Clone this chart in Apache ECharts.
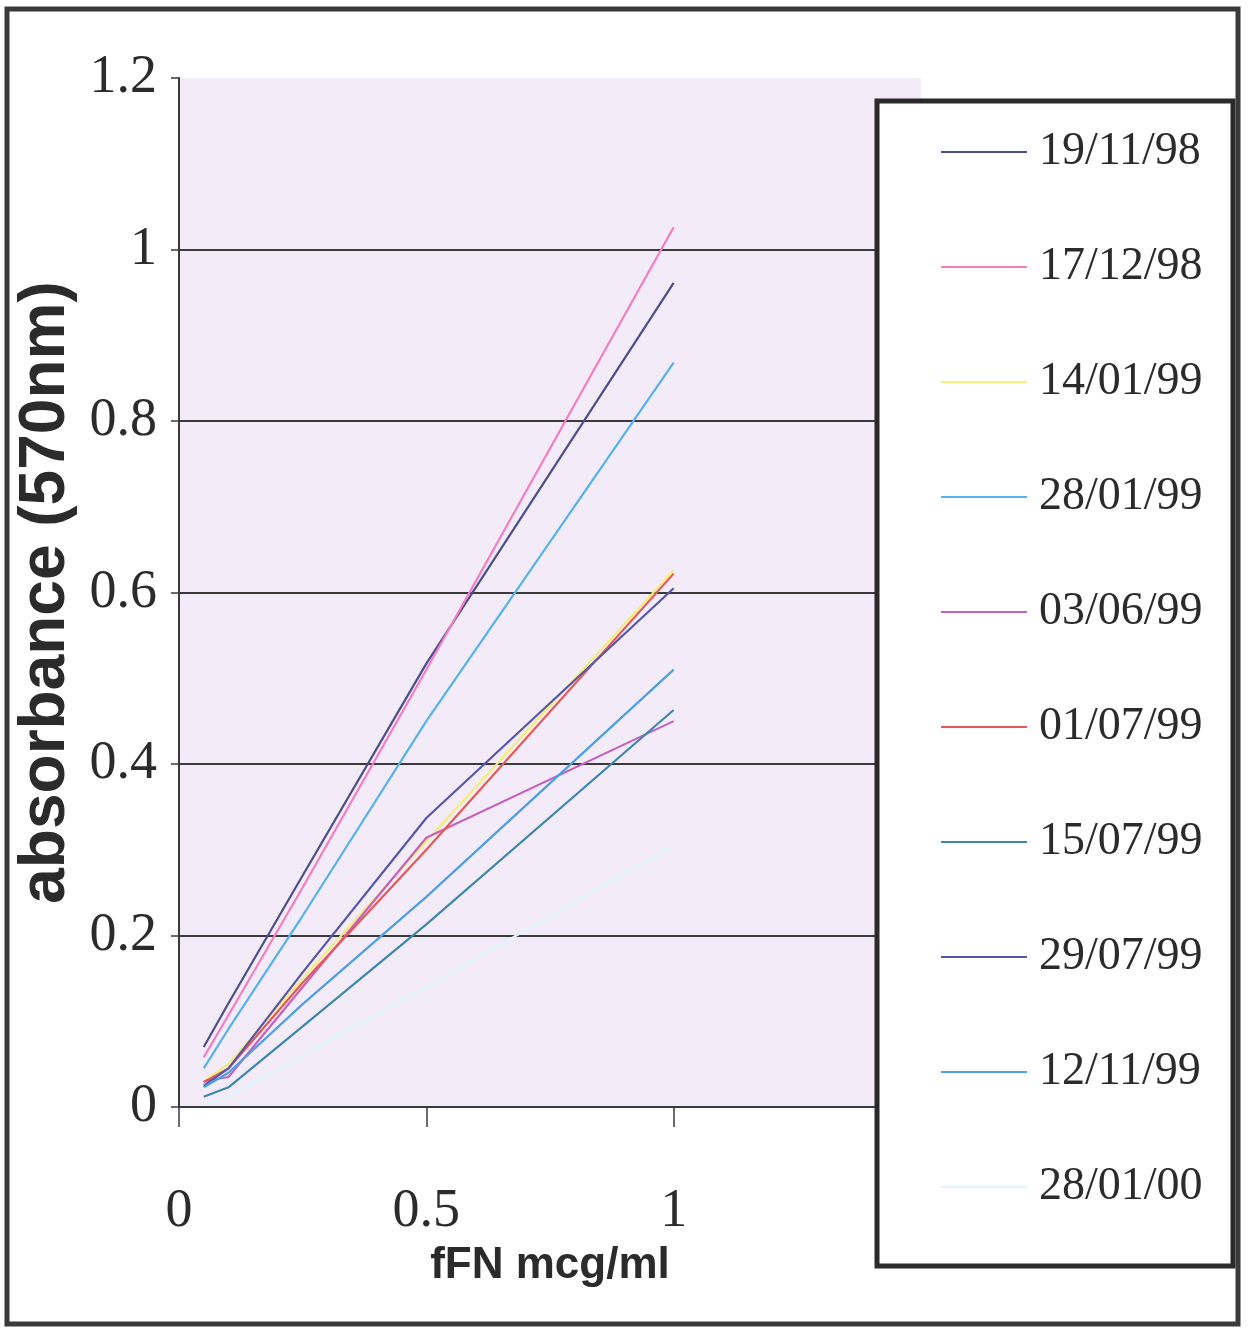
<!DOCTYPE html>
<html>
<head>
<meta charset="utf-8">
<script src="https://cdn.jsdelivr.net/npm/echarts@6/dist/echarts.min.js"></script>
<style>
html,body{margin:0;padding:0;background:#fff;}
#chart{width:1251px;height:1330px;}
</style>
</head>
<body>
<div id="chart"></div>
<script>
// fFN concentration (mcg/ml)
const xValues = [0.05, 0.1, 0.25, 0.5, 1.0];
const seriesNames = ["19/11/98","17/12/98","14/01/99","28/01/99","03/06/99","01/07/99","15/07/99","29/07/99","12/11/99","28/01/00"];
// absorbance (570nm) per run date
const s191198 = [0.070, 0.121, 0.270, 0.517, 0.961];
const s171298 = [0.058, 0.107, 0.256, 0.510, 1.026];
const s140199 = [0.030, 0.050, 0.150, 0.310, 0.626];
const s280199 = [0.045, 0.091, 0.223, 0.450, 0.868];
const s030699 = [0.030, 0.035, 0.140, 0.314, 0.450];
const s010799 = [0.029, 0.045, 0.145, 0.300, 0.622];
const s150799 = [0.012, 0.023, 0.094, 0.213, 0.463];
const s290799 = [0.025, 0.045, 0.157, 0.337, 0.605];
const s121199 = [0.023, 0.040, 0.120, 0.245, 0.510];
const s280100 = [0.003, 0.012, 0.060, 0.140, 0.305];
const allValues = [s191198,s171298,s140199,s280199,s030699,s010799,s150799,s290799,s121199,s280100];
const colors = ["#4a4e8c","#f47cc2","#f3ee7a","#55b2ee","#c263be","#e65858","#3f86ac","#5656ae","#4c9ee6","#dcf6fc"];
const xTicks = [0, 0.5, 1];

const series = seriesNames.map((name, i) => ({
  name: name,
  type: 'line',
  symbol: 'none',
  data: xValues.map((x, j) => [x, allValues[i][j]]),
  lineStyle: { width: 2.2, color: colors[i] },
  itemStyle: { color: colors[i] },
  z: 2
}));

const chart = echarts.init(document.getElementById('chart'), null, {renderer: 'canvas'});
chart.setOption({
  animation: false,
  backgroundColor: '#ffffff',
  grid: {
    left: 179, top: 78, width: 742, height: 1029,
    outerBoundsMode: 'none', containLabel: false,
    show: true, backgroundColor: '#f4ebf8', borderWidth: 0
  },
  xAxis: {
    type: 'value', min: 0, max: 1.5, interval: 0.5,
    axisLine: { show: true, lineStyle: { color: '#3a3a3a', width: 2 } },
    axisTick: { show: true, inside: false, length: 20, lineStyle: { color: '#3a3a3a', width: 1.5 } },
    splitLine: { show: false },
    axisLabel: {
      margin: 78, fontFamily: 'Liberation Serif', fontSize: 54, color: '#2b2b2b',
      formatter: v => (xTicks.indexOf(v) >= 0 ? String(v) : '')
    },
    name: 'fFN mcg/ml', nameLocation: 'middle', nameGap: 131,
    nameTextStyle: { fontFamily: 'Liberation Sans', fontWeight: 'bold', fontSize: 44, color: '#2b2b2b' }
  },
  yAxis: {
    type: 'value', min: 0, max: 1.2, interval: 0.2,
    axisLine: { show: true, lineStyle: { color: '#3a3a3a', width: 2 } },
    axisTick: { show: true, length: 8, lineStyle: { color: '#3a3a3a', width: 1.5 } },
    splitLine: { show: true, lineStyle: { color: ['#3a3a3a','#3a3a3a','#3a3a3a','#3a3a3a','#3a3a3a','#3a3a3a','rgba(0,0,0,0)'], width: 2 } },
    axisLabel: {
      margin: 22, fontFamily: 'Liberation Serif', fontSize: 54, color: '#2b2b2b',
      formatter: v => String(Math.round(v * 10) / 10)
    },
    name: 'absorbance (570nm)', nameLocation: 'middle', nameGap: 98, nameRotate: 90,
    nameTextStyle: { fontFamily: 'Liberation Sans', fontWeight: 'bold', fontSize: 64, color: '#2b2b2b' }
  },
  legend: {
    orient: 'vertical', left: 941, top: 127, z: 10,
    icon: 'rect', itemWidth: 86, itemHeight: 2, itemGap: 65, padding: 0,
    data: seriesNames,
    textStyle: { fontFamily: 'Liberation Serif', fontSize: 46, lineHeight: 50, color: '#2b2b2b', padding: [0,0,0,7] }
  },
  graphic: {
    elements: [
      { type: 'rect', z: 3, shape: { x: 877, y: 101, width: 356, height: 1165 },
        style: { fill: '#ffffff', stroke: '#2a2a2a', lineWidth: 5 } },
      { type: 'rect', z: 20, shape: { x: 7, y: 9, width: 1231, height: 1315 },
        style: { fill: 'none', stroke: '#3a3a3a', lineWidth: 5 } }
    ]
  },
  series: series
});
</script>
</body>
</html>
